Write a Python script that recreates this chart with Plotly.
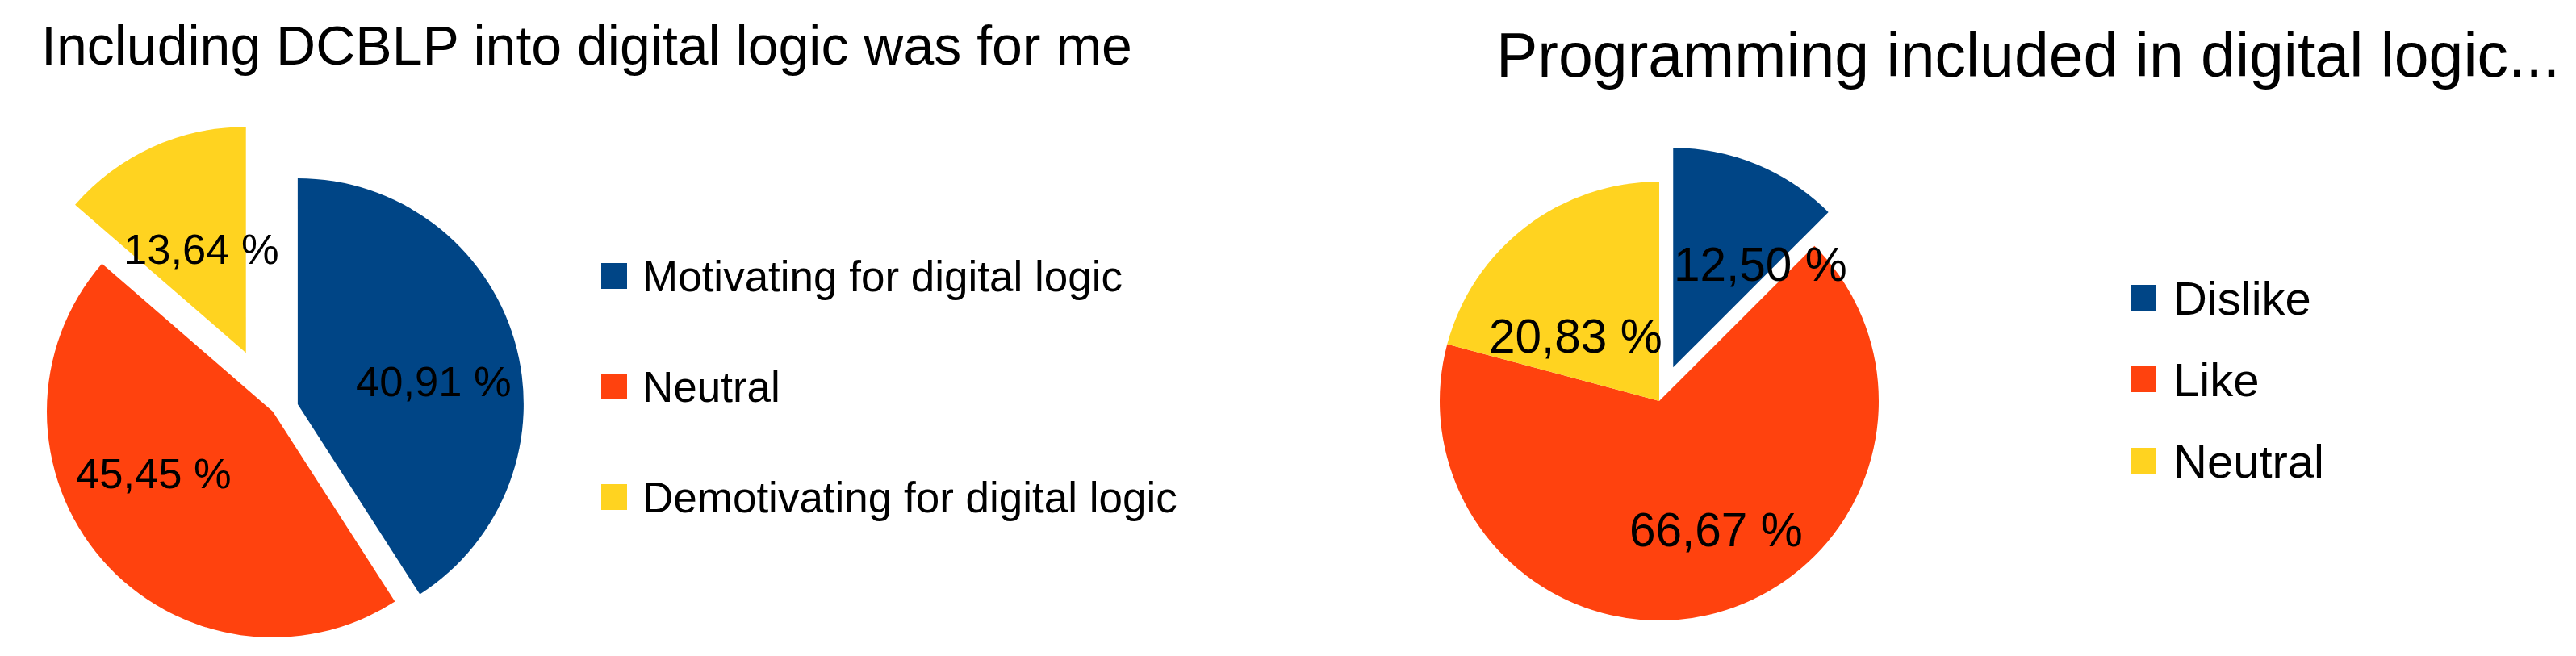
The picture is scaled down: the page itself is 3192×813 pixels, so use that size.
import math
import plotly.graph_objects as go

W, H = 3192, 813

# ---------------- data ----------------
left_title = "Including DCBLP into digital logic was for me"
left_labels = ["Motivating for digital logic", "Neutral", "Demotivating for digital logic"]
left_values = [40.91, 45.45, 13.64]

right_title = "Programming included in digital logic..."
right_labels = ["Dislike", "Like", "Neutral"]
right_values = [12.50, 66.67, 20.83]

# ---------------- style ----------------
BLUE, ORANGE, YELLOW = "#004586", "#ff420e", "#ffd320"
left_colors = [BLUE, ORANGE, YELLOW]
right_colors = [BLUE, ORANGE, YELLOW]
FONT = "Liberation Sans, Arial, sans-serif"

left_style = dict(
    center=(338, 510), r=280, explode=[0.115, 0.0, 0.286],
    label_font=52.5, label_pos=[(0.612, 6.7), (0.594, 13.7), (0.501, 1.5)],
    title_font=68, title_xy=(49, 56),
    sw_x=745, sw_size=32, txt_x=794, rows=[342, 479, 616], legend_font=53,
)
right_style = dict(
    center=(2056, 497), r=272, explode=[0.166, 0.0, 0.0],
    label_font=58.5, label_pos=[(0.616, 17.7), (0.639, -8.8), (0.482, -14.9)],
    title_font=77, title_xy=(1852, 68),
    sw_x=2640, sw_size=32, txt_x=2691, rows=[369, 470, 571], legend_font=58,
)

fig = go.Figure()
annotations = []
shapes = []


def pct(v):
    return f"{v:.2f}".replace(".", ",") + " %"


def build(values, labels, colors, st, title):
    total = sum(values)
    fracs = [v / total for v in values]
    mids, cum = [], 0.0
    for f in fracs:
        mids.append((cum + f / 2) * 360.0)
        cum += f
    cx, cy = st["center"]
    r = st["r"]
    n = len(values)
    for i in range(n):
        a = math.radians(mids[i])
        off = st["explode"][i] * r
        ax = cx + off * math.sin(a)
        ay = cy - off * math.cos(a)
        cols = [colors[j] if j == i else "rgba(0,0,0,0)" for j in range(n)]
        fig.add_trace(go.Pie(
            labels=labels, values=values, sort=False, direction="clockwise", rotation=0,
            marker=dict(colors=cols, line=dict(width=0)),
            textinfo="none", hoverinfo="label+percent", showlegend=False,
            domain=dict(x=[(ax - r) / W, (ax + r) / W], y=[1 - (ay + r) / H, 1 - (ay - r) / H]),
        ))
        f, d = st["label_pos"][i]
        b = math.radians(mids[i] + d)
        lx = ax + f * r * math.sin(b)
        ly = ay - f * r * math.cos(b)
        annotations.append(dict(
            x=lx / W, y=1 - ly / H, xref="paper", yref="paper", showarrow=False,
            text=pct(fracs[i] * 100), xanchor="center", yanchor="middle",
            font=dict(family=FONT, size=st["label_font"], color="#000000"),
        ))
    # legend (manual, LibreOffice-like large swatches)
    s = st["sw_size"]
    for i in range(n):
        ry = st["rows"][i]
        shapes.append(dict(
            type="rect", xref="paper", yref="paper",
            x0=st["sw_x"] / W, x1=(st["sw_x"] + s) / W,
            y0=1 - (ry + s / 2) / H, y1=1 - (ry - s / 2) / H,
            fillcolor=colors[i], line=dict(width=0),
        ))
        annotations.append(dict(
            x=st["txt_x"] / W, y=1 - ry / H, xref="paper", yref="paper", showarrow=False,
            text=labels[i], xanchor="left", yanchor="middle",
            font=dict(family=FONT, size=st["legend_font"], color="#000000"),
        ))
    tx, ty = st["title_xy"]
    annotations.append(dict(
        x=tx / W, y=1 - ty / H, xref="paper", yref="paper", showarrow=False,
        text=title, xanchor="left", yanchor="middle",
        font=dict(family=FONT, size=st["title_font"], color="#000000"),
    ))


build(left_values, left_labels, left_colors, left_style, left_title)
build(right_values, right_labels, right_colors, right_style, right_title)

fig.update_layout(
    width=W, height=H, autosize=False,
    margin=dict(l=0, r=0, t=0, b=0, pad=0),
    paper_bgcolor="white", plot_bgcolor="white",
    showlegend=False,
    annotations=annotations, shapes=shapes,
)

fig.write_html(
    "out.html",
    config={"displayModeBar": False},
    post_script="document.body.style.margin='0';document.documentElement.style.overflow='hidden';",
)
